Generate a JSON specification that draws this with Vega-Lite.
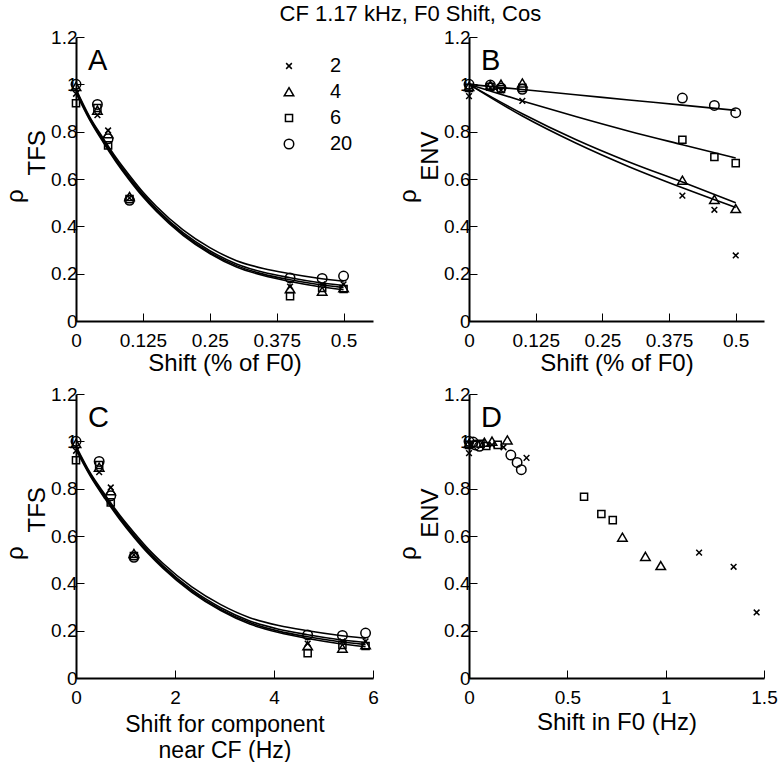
{
  "$schema": "https://vega.github.io/schema/vega-lite/v6.json",
  "padding": {"left": 3, "top": 2, "right": 0, "bottom": 0},
  "title": {"text": "CF 1.17 kHz, F0 Shift, Cos", "fontSize": 22, "fontWeight": "normal", "font": "Liberation Sans", "color": "black", "anchor": "middle", "offset": 2.5, "dx": 20},
  "datasets": {
    "tfs": [
      {"n": "2", "pct": 0, "hz": 0, "rho": 0.96},
      {"n": "2", "pct": 0.04, "hz": 0.468, "rho": 0.87},
      {"n": "2", "pct": 0.06, "hz": 0.702, "rho": 0.805},
      {"n": "2", "pct": 0.1, "hz": 1.17, "rho": 0.52},
      {"n": "2", "pct": 0.4, "hz": 4.68, "rho": 0.145},
      {"n": "2", "pct": 0.46, "hz": 5.382, "rho": 0.155},
      {"n": "2", "pct": 0.5, "hz": 5.85, "rho": 0.155},
      {"n": "4", "pct": 0, "hz": 0, "rho": 0.99},
      {"n": "4", "pct": 0.04, "hz": 0.468, "rho": 0.89},
      {"n": "4", "pct": 0.06, "hz": 0.702, "rho": 0.79},
      {"n": "4", "pct": 0.1, "hz": 1.17, "rho": 0.525},
      {"n": "4", "pct": 0.4, "hz": 4.68, "rho": 0.135},
      {"n": "4", "pct": 0.46, "hz": 5.382, "rho": 0.125},
      {"n": "4", "pct": 0.5, "hz": 5.85, "rho": 0.14},
      {"n": "6", "pct": 0, "hz": 0, "rho": 0.92},
      {"n": "6", "pct": 0.04, "hz": 0.468, "rho": 0.9},
      {"n": "6", "pct": 0.06, "hz": 0.702, "rho": 0.742},
      {"n": "6", "pct": 0.1, "hz": 1.17, "rho": 0.515},
      {"n": "6", "pct": 0.4, "hz": 4.68, "rho": 0.105},
      {"n": "6", "pct": 0.46, "hz": 5.382, "rho": 0.14},
      {"n": "6", "pct": 0.5, "hz": 5.85, "rho": 0.135},
      {"n": "20", "pct": 0, "hz": 0, "rho": 1.0},
      {"n": "20", "pct": 0.04, "hz": 0.468, "rho": 0.915},
      {"n": "20", "pct": 0.06, "hz": 0.702, "rho": 0.77},
      {"n": "20", "pct": 0.1, "hz": 1.17, "rho": 0.51},
      {"n": "20", "pct": 0.4, "hz": 4.68, "rho": 0.182},
      {"n": "20", "pct": 0.46, "hz": 5.382, "rho": 0.18},
      {"n": "20", "pct": 0.5, "hz": 5.85, "rho": 0.19}
    ],
    "env": [
      {"n": "2", "pct": 0, "f0": 0, "rho": 0.95},
      {"n": "2", "pct": 0.04, "f0": 0.117, "rho": 0.985},
      {"n": "2", "pct": 0.06, "f0": 0.1755, "rho": 0.975},
      {"n": "2", "pct": 0.1, "f0": 0.2925, "rho": 0.93},
      {"n": "2", "pct": 0.4, "f0": 1.17, "rho": 0.53},
      {"n": "2", "pct": 0.46, "f0": 1.3455, "rho": 0.47},
      {"n": "2", "pct": 0.5, "f0": 1.4625, "rho": 0.277},
      {"n": "4", "pct": 0, "f0": 0, "rho": 0.99},
      {"n": "4", "pct": 0.04, "f0": 0.078, "rho": 0.995},
      {"n": "4", "pct": 0.06, "f0": 0.117, "rho": 1.0},
      {"n": "4", "pct": 0.1, "f0": 0.195, "rho": 1.005},
      {"n": "4", "pct": 0.4, "f0": 0.78, "rho": 0.594},
      {"n": "4", "pct": 0.46, "f0": 0.897, "rho": 0.513},
      {"n": "4", "pct": 0.5, "f0": 0.975, "rho": 0.474},
      {"n": "6", "pct": 0, "f0": 0, "rho": 0.985},
      {"n": "6", "pct": 0.04, "f0": 0.0585, "rho": 0.99},
      {"n": "6", "pct": 0.06, "f0": 0.0878, "rho": 0.98},
      {"n": "6", "pct": 0.1, "f0": 0.146, "rho": 0.985},
      {"n": "6", "pct": 0.4, "f0": 0.585, "rho": 0.766},
      {"n": "6", "pct": 0.46, "f0": 0.673, "rho": 0.693},
      {"n": "6", "pct": 0.5, "f0": 0.731, "rho": 0.667},
      {"n": "20", "pct": 0, "f0": 0, "rho": 1.0},
      {"n": "20", "pct": 0.04, "f0": 0.0213, "rho": 0.997},
      {"n": "20", "pct": 0.06, "f0": 0.0319, "rho": 0.985},
      {"n": "20", "pct": 0.1, "f0": 0.0532, "rho": 0.979},
      {"n": "20", "pct": 0.4, "f0": 0.2127, "rho": 0.942},
      {"n": "20", "pct": 0.46, "f0": 0.2446, "rho": 0.911},
      {"n": "20", "pct": 0.5, "f0": 0.2659, "rho": 0.88}
    ],
    "tfsfit": [
      {"n": "20", "pct": 0, "hz": 0, "rho": 0.98},
      {"n": "20", "pct": 0.025, "hz": 0.2925, "rho": 0.865},
      {"n": "20", "pct": 0.05, "hz": 0.585, "rho": 0.775},
      {"n": "20", "pct": 0.075, "hz": 0.8775, "rho": 0.69},
      {"n": "20", "pct": 0.1, "hz": 1.17, "rho": 0.615},
      {"n": "20", "pct": 0.125, "hz": 1.4625, "rho": 0.545},
      {"n": "20", "pct": 0.15, "hz": 1.755, "rho": 0.485},
      {"n": "20", "pct": 0.2, "hz": 2.34, "rho": 0.385},
      {"n": "20", "pct": 0.25, "hz": 2.925, "rho": 0.31},
      {"n": "20", "pct": 0.3, "hz": 3.51, "rho": 0.255},
      {"n": "20", "pct": 0.35, "hz": 4.095, "rho": 0.222},
      {"n": "20", "pct": 0.4, "hz": 4.68, "rho": 0.2},
      {"n": "20", "pct": 0.45, "hz": 5.265, "rho": 0.182},
      {"n": "20", "pct": 0.5, "hz": 5.85, "rho": 0.168},
      {"n": "2", "pct": 0, "hz": 0, "rho": 0.975},
      {"n": "2", "pct": 0.025, "hz": 0.2925, "rho": 0.86},
      {"n": "2", "pct": 0.05, "hz": 0.585, "rho": 0.768},
      {"n": "2", "pct": 0.075, "hz": 0.8775, "rho": 0.682},
      {"n": "2", "pct": 0.1, "hz": 1.17, "rho": 0.606},
      {"n": "2", "pct": 0.125, "hz": 1.4625, "rho": 0.536},
      {"n": "2", "pct": 0.15, "hz": 1.755, "rho": 0.475},
      {"n": "2", "pct": 0.2, "hz": 2.34, "rho": 0.373},
      {"n": "2", "pct": 0.25, "hz": 2.925, "rho": 0.297},
      {"n": "2", "pct": 0.3, "hz": 3.51, "rho": 0.241},
      {"n": "2", "pct": 0.35, "hz": 4.095, "rho": 0.206},
      {"n": "2", "pct": 0.4, "hz": 4.68, "rho": 0.183},
      {"n": "2", "pct": 0.45, "hz": 5.265, "rho": 0.164},
      {"n": "2", "pct": 0.5, "hz": 5.85, "rho": 0.15},
      {"n": "4", "pct": 0, "hz": 0, "rho": 0.97},
      {"n": "4", "pct": 0.025, "hz": 0.2925, "rho": 0.856},
      {"n": "4", "pct": 0.05, "hz": 0.585, "rho": 0.763},
      {"n": "4", "pct": 0.075, "hz": 0.8775, "rho": 0.677},
      {"n": "4", "pct": 0.1, "hz": 1.17, "rho": 0.6},
      {"n": "4", "pct": 0.125, "hz": 1.4625, "rho": 0.53},
      {"n": "4", "pct": 0.15, "hz": 1.755, "rho": 0.469},
      {"n": "4", "pct": 0.2, "hz": 2.34, "rho": 0.367},
      {"n": "4", "pct": 0.25, "hz": 2.925, "rho": 0.29},
      {"n": "4", "pct": 0.3, "hz": 3.51, "rho": 0.234},
      {"n": "4", "pct": 0.35, "hz": 4.095, "rho": 0.198},
      {"n": "4", "pct": 0.4, "hz": 4.68, "rho": 0.174},
      {"n": "4", "pct": 0.45, "hz": 5.265, "rho": 0.155},
      {"n": "4", "pct": 0.5, "hz": 5.85, "rho": 0.141},
      {"n": "6", "pct": 0, "hz": 0, "rho": 0.965},
      {"n": "6", "pct": 0.025, "hz": 0.2925, "rho": 0.852},
      {"n": "6", "pct": 0.05, "hz": 0.585, "rho": 0.758},
      {"n": "6", "pct": 0.075, "hz": 0.8775, "rho": 0.672},
      {"n": "6", "pct": 0.1, "hz": 1.17, "rho": 0.595},
      {"n": "6", "pct": 0.125, "hz": 1.4625, "rho": 0.525},
      {"n": "6", "pct": 0.15, "hz": 1.755, "rho": 0.464},
      {"n": "6", "pct": 0.2, "hz": 2.34, "rho": 0.362},
      {"n": "6", "pct": 0.25, "hz": 2.925, "rho": 0.285},
      {"n": "6", "pct": 0.3, "hz": 3.51, "rho": 0.228},
      {"n": "6", "pct": 0.35, "hz": 4.095, "rho": 0.192},
      {"n": "6", "pct": 0.4, "hz": 4.68, "rho": 0.167},
      {"n": "6", "pct": 0.45, "hz": 5.265, "rho": 0.147},
      {"n": "6", "pct": 0.5, "hz": 5.85, "rho": 0.132}
    ],
    "envfit": [
      {"n": "20", "pct": 0, "rho": 1.0},
      {"n": "20", "pct": 0.1, "rho": 0.978},
      {"n": "20", "pct": 0.2, "rho": 0.956},
      {"n": "20", "pct": 0.3, "rho": 0.934},
      {"n": "20", "pct": 0.4, "rho": 0.912},
      {"n": "20", "pct": 0.5, "rho": 0.89},
      {"n": "6", "pct": 0, "rho": 1.0},
      {"n": "6", "pct": 0.1, "rho": 0.93},
      {"n": "6", "pct": 0.2, "rho": 0.864},
      {"n": "6", "pct": 0.3, "rho": 0.802},
      {"n": "6", "pct": 0.4, "rho": 0.745},
      {"n": "6", "pct": 0.5, "rho": 0.689},
      {"n": "4", "pct": 0, "rho": 1.0},
      {"n": "4", "pct": 0.1, "rho": 0.876},
      {"n": "4", "pct": 0.2, "rho": 0.767},
      {"n": "4", "pct": 0.3, "rho": 0.672},
      {"n": "4", "pct": 0.4, "rho": 0.587},
      {"n": "4", "pct": 0.5, "rho": 0.5},
      {"n": "2", "pct": 0, "rho": 1.0},
      {"n": "2", "pct": 0.1, "rho": 0.866},
      {"n": "2", "pct": 0.2, "rho": 0.752},
      {"n": "2", "pct": 0.3, "rho": 0.652},
      {"n": "2", "pct": 0.4, "rho": 0.563},
      {"n": "2", "pct": 0.5, "rho": 0.48}
    ]
  },
  "columns": 2,
  "spacing": {"row": 10, "column": 17},
  "resolve": {"scale": {"shape": "independent"}, "legend": {"shape": "independent"}},
  "concat": [
    {
      "width": 297, "height": 284,
      "title": {"text": "A", "anchor": "start", "frame": "group", "offset": -48, "dx": 12, "fontSize": 29, "fontWeight": "normal", "font": "Liberation Sans", "color": "black"},
      "encoding": {
        "x": {"field": "pct", "type": "quantitative", "scale": {"domain": [0, 0.555], "nice": false, "zero": true}, "axis": {"values": [0, 0.125, 0.25, 0.375, 0.5], "title": "Shift (% of F0)", "titlePadding": 1}},
        "y": {"field": "rho", "type": "quantitative", "scale": {"domain": [0, 1.2], "nice": false}, "axis": {"values": [0, 0.2, 0.4, 0.6, 0.8, 1, 1.2], "title": ["ρ\u00a0\u00a0\u00a0\u00a0\u00a0\u200b", "\u200b\u00a0\u00a0\u00a0\u00a0\u00a0\u00a0\u00a0\u00a0TFS"], "titlePadding": 1}}
      },
      "layer": [
        {"data": {"name": "tfsfit"}, "mark": {"type": "line", "color": "black", "strokeWidth": 1.6, "interpolate": "monotone"}, "encoding": {"detail": {"field": "n", "type": "nominal"}}},
        {"data": {"name": "tfs"}, "mark": {"type": "point", "filled": false, "color": "black", "size": 90, "strokeWidth": 1.5, "opacity": 1},
          "encoding": {"shape": {"field": "n", "type": "nominal", "scale": {"domain": ["2", "4", "6", "20"], "range": ["M-0.6,-0.6L0.6,0.6M0.6,-0.6L-0.6,0.6", "M0,-0.9L1,0.8L-1,0.8Z", "M-0.75,-0.75H0.75V0.75H-0.75Z", "circle"]},
            "legend": {"orient": "none", "legendX": 203, "legendY": 19, "title": null, "labelFontSize": 20, "labelFont": "Liberation Sans", "labelColor": "black", "labelOffset": 31, "rowPadding": 6, "symbolSize": 90, "symbolStrokeColor": "black", "symbolStrokeWidth": 1.5, "symbolFillColor": "transparent", "symbolOpacity": 1, "padding": 0}}}}
      ]
    },
    {
      "width": 295, "height": 284,
      "title": {"text": "B", "anchor": "start", "frame": "group", "offset": -48, "dx": 12, "fontSize": 29, "fontWeight": "normal", "font": "Liberation Sans", "color": "black"},
      "encoding": {
        "x": {"field": "pct", "type": "quantitative", "scale": {"domain": [0, 0.553], "nice": false, "zero": true}, "axis": {"values": [0, 0.125, 0.25, 0.375, 0.5], "title": "Shift (% of F0)", "titlePadding": 1}},
        "y": {"field": "rho", "type": "quantitative", "scale": {"domain": [0, 1.2], "nice": false}, "axis": {"values": [0, 0.2, 0.4, 0.6, 0.8, 1, 1.2], "title": ["ρ\u00a0\u00a0\u00a0\u00a0\u00a0\u200b", "\u200b\u00a0\u00a0\u00a0\u00a0\u00a0\u00a0\u00a0ENV"], "titlePadding": 1}}
      },
      "layer": [
        {"data": {"name": "envfit"}, "mark": {"type": "line", "color": "black", "strokeWidth": 1.6, "interpolate": "monotone"}, "encoding": {"detail": {"field": "n", "type": "nominal"}}},
        {"data": {"name": "env"}, "mark": {"type": "point", "filled": false, "color": "black", "size": 90, "strokeWidth": 1.5, "opacity": 1},
          "encoding": {"shape": {"field": "n", "type": "nominal", "scale": {"domain": ["2", "4", "6", "20"], "range": ["M-0.6,-0.6L0.6,0.6M0.6,-0.6L-0.6,0.6", "M0,-0.9L1,0.8L-1,0.8Z", "M-0.75,-0.75H0.75V0.75H-0.75Z", "circle"]}, "legend": null}}}
      ]
    },
    {
      "width": 297, "height": 284,
      "title": {"text": "C", "anchor": "start", "frame": "group", "offset": -48, "dx": 12, "fontSize": 29, "fontWeight": "normal", "font": "Liberation Sans", "color": "black"},
      "encoding": {
        "x": {"field": "hz", "type": "quantitative", "scale": {"domain": [0, 6], "nice": false, "zero": true}, "axis": {"values": [0, 2, 4, 6], "title": ["Shift for component", "near CF (Hz)"], "titlePadding": 6, "titleFontSize": 23, "titleLineHeight": 26}},
        "y": {"field": "rho", "type": "quantitative", "scale": {"domain": [0, 1.2], "nice": false}, "axis": {"values": [0, 0.2, 0.4, 0.6, 0.8, 1, 1.2], "title": ["ρ\u00a0\u00a0\u00a0\u00a0\u00a0\u200b", "\u200b\u00a0\u00a0\u00a0\u00a0\u00a0\u00a0\u00a0\u00a0TFS"], "titlePadding": 1}}
      },
      "layer": [
        {"data": {"name": "tfsfit"}, "mark": {"type": "line", "color": "black", "strokeWidth": 1.6, "interpolate": "monotone"}, "encoding": {"detail": {"field": "n", "type": "nominal"}}},
        {"data": {"name": "tfs"}, "mark": {"type": "point", "filled": false, "color": "black", "size": 90, "strokeWidth": 1.5, "opacity": 1},
          "encoding": {"shape": {"field": "n", "type": "nominal", "scale": {"domain": ["2", "4", "6", "20"], "range": ["M-0.6,-0.6L0.6,0.6M0.6,-0.6L-0.6,0.6", "M0,-0.9L1,0.8L-1,0.8Z", "M-0.75,-0.75H0.75V0.75H-0.75Z", "circle"]}, "legend": null}}}
      ]
    },
    {
      "width": 295, "height": 284,
      "title": {"text": "D", "anchor": "start", "frame": "group", "offset": -48, "dx": 12, "fontSize": 29, "fontWeight": "normal", "font": "Liberation Sans", "color": "black"},
      "data": {"name": "env"},
      "mark": {"type": "point", "filled": false, "color": "black", "size": 90, "strokeWidth": 1.5, "opacity": 1},
      "encoding": {
        "x": {"field": "f0", "type": "quantitative", "scale": {"domain": [0, 1.5], "nice": false, "zero": true}, "axis": {"values": [0, 0.5, 1, 1.5], "title": "Shift in F0 (Hz)", "titlePadding": 3}},
        "y": {"field": "rho", "type": "quantitative", "scale": {"domain": [0, 1.2], "nice": false}, "axis": {"values": [0, 0.2, 0.4, 0.6, 0.8, 1, 1.2], "title": ["ρ\u00a0\u00a0\u00a0\u00a0\u00a0\u200b", "\u200b\u00a0\u00a0\u00a0\u00a0\u00a0\u00a0\u00a0ENV"], "titlePadding": 1}},
        "shape": {"field": "n", "type": "nominal", "scale": {"domain": ["2", "4", "6", "20"], "range": ["M-0.6,-0.6L0.6,0.6M0.6,-0.6L-0.6,0.6", "M0,-0.9L1,0.8L-1,0.8Z", "M-0.75,-0.75H0.75V0.75H-0.75Z", "circle"]}, "legend": null}
      }
    }
  ],
  "config": {
    "font": "Liberation Sans",
    "view": {"stroke": null},
    "axis": {
      "grid": false,
      "domainColor": "black",
      "domainWidth": 2,
      "tickColor": "black",
      "tickWidth": 1,
      "tickSize": -8,
      "labelFont": "Liberation Sans",
      "labelFontSize": 19,
      "labelColor": "black",
      "labelFlush": false,
      "labelOverlap": false,
      "labelExpr": "'' + datum.value",
      "titleFont": "Liberation Sans",
      "titleFontSize": 24,
      "titleFontWeight": "normal",
      "titleColor": "black",
      "titleLineHeight": 22
    },
    "axisX": {"labelPadding": 18},
    "axisY": {"labelPadding": 7}
  }
}
